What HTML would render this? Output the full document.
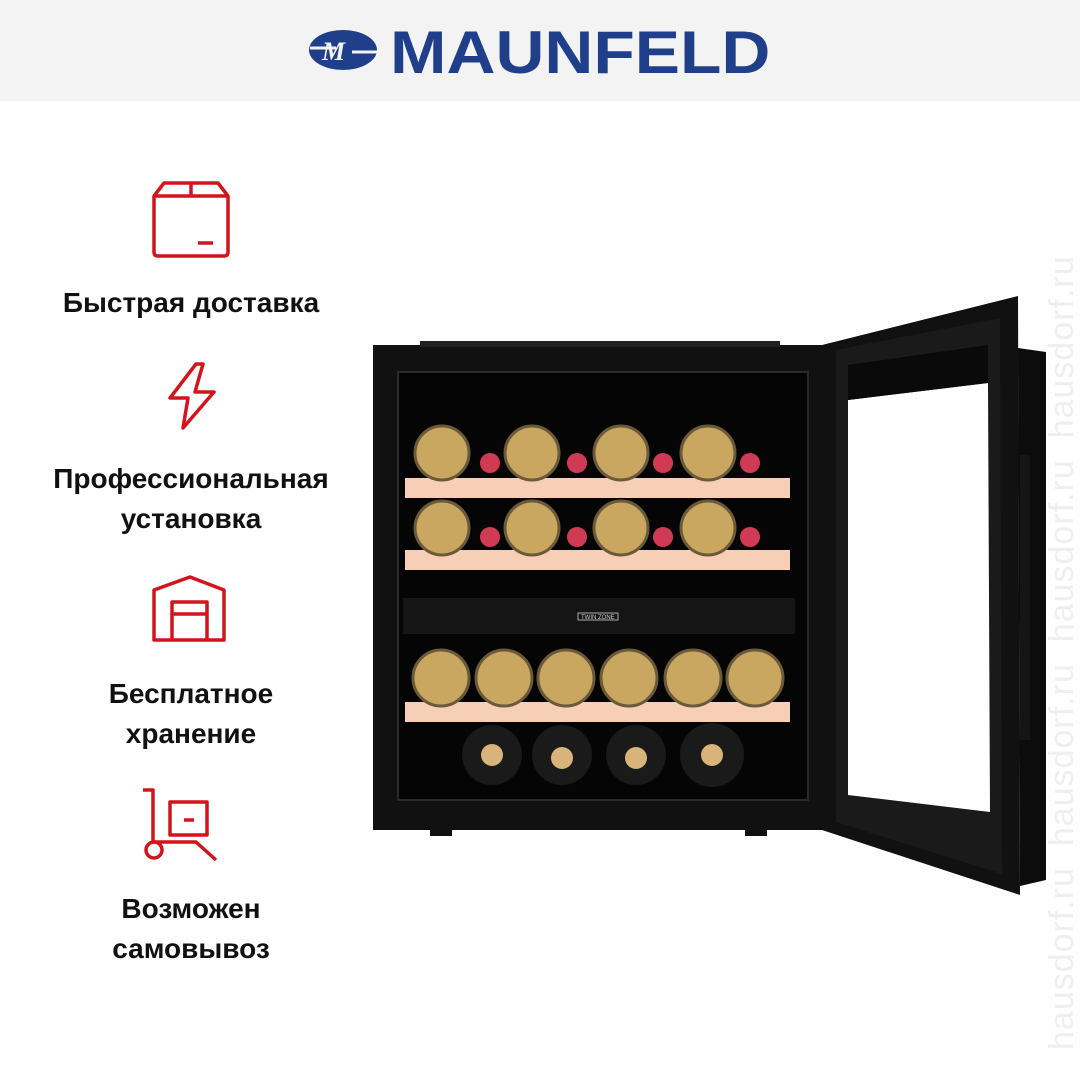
<!DOCTYPE html>
<html><head><meta charset="utf-8"><style>
body{margin:0;width:1080px;height:1080px;background:#fff;position:relative;overflow:hidden;font-family:"Liberation Sans",sans-serif}
.hdr{position:absolute;left:0;top:0;width:1080px;height:101px;background:#f3f3f3}
.logo{position:absolute;left:390px;top:18px;font-weight:bold;font-size:60px;color:#1f3f8a;letter-spacing:0px;transform:scaleX(1.13);transform-origin:left top;line-height:70px}
.t{position:absolute;width:382px;left:0;text-align:center;font-size:28px;font-weight:bold;color:#111;line-height:40px}
.wm{position:absolute;left:1043px;top:1050px;transform:rotate(-90deg);transform-origin:left top;font-size:34px;color:#efefef;white-space:nowrap;letter-spacing:1px;width:1100px}
</style></head><body>
<div class="hdr"></div>
<svg style="position:absolute;left:308px;top:28px" width="72" height="46"><ellipse cx="35" cy="22" rx="34" ry="20" fill="#1f3f8a"/><path d="M2 20 H28 M44 24 H70" stroke="#f3f3f3" stroke-width="3"/><text x="14" y="32" font-family="Liberation Serif" font-style="italic" font-weight="bold" font-size="26" fill="#f3f3f3">M</text></svg>
<div class="logo">MAUNFELD</div>
<div class="wm">hausdorf.ru &nbsp;hausdorf.ru &nbsp;hausdorf.ru &nbsp;hausdorf.ru</div>

<svg style="position:absolute;left:0;top:0" width="382" height="880" fill="none" stroke="#d3141d" stroke-width="3.5" stroke-linejoin="round">
<path d="M154 196 L164 183 H218 L228 196 V252 Q228 256 224 256 H158 Q154 256 154 252 Z M154 196 H228 M191 183 V196 M198 243 H213"/>
<path d="M196 364 L170 398 H188 L183 428 L214 392 H195 L203 364 Z"/>
<path d="M154 590 L190 577 L224 590 V640 H154 Z M172 640 V602 H207 V640 M172 614 H207" />
<path d="M143 790 H153 V842 M153 842 H196 L216 860 M170 802 H207 V835 H170 Z M184 820 H194"/>
<circle cx="154" cy="850" r="8"/>
</svg>
<div class="t" style="top:283px">Быстрая доставка</div>
<div class="t" style="top:459px">Профессиональная<br>установка</div>
<div class="t" style="top:674px">Бесплатное<br>хранение</div>
<div class="t" style="top:889px">Возможен<br>самовывоз</div>

<svg style="position:absolute;left:0;top:0" width="1080" height="1080">
<rect x="373" y="345" width="452" height="485" fill="#111"/>
<rect x="420" y="341" width="360" height="6" fill="#222"/>
<rect x="398" y="372" width="410" height="428" fill="#050505" stroke="#2a2a2a" stroke-width="2"/>
<rect x="430" y="826" width="22" height="10" fill="#111"/><rect x="745" y="826" width="22" height="10" fill="#111"/>
<polygon points="822,345 1018,296 1020,895 822,830" fill="#111"/>
<polygon points="1018,348 1046,352 1046,880 1020,886" fill="#0c0c0c"/>
<polygon points="836,350 1000,318 1002,874 836,822" fill="#1a1a1a"/>
<polygon points="848,400 988,383 990,812 848,795" fill="#fff"/>
<polygon points="848,365 988,345 988,383 848,400" fill="#0a0a0a"/>
<rect x="1020" y="455" width="10" height="285" fill="#151515"/>
<g fill="#f6cfb6"><rect x="405" y="478" width="385" height="20"/><rect x="405" y="550" width="385" height="20"/><rect x="405" y="702" width="385" height="20"/></g>
<rect x="403" y="598" width="392" height="36" fill="#151515"/>
<rect x="578" y="613" width="40" height="7" fill="none" stroke="#aaa" stroke-width="1"/>
<text x="581" y="619" font-size="6" fill="#ccc" font-family="Liberation Sans">TWIN ZONE</text>
<g fill="#c9a760" stroke="#6b5a3a" stroke-width="3">
<circle cx="442" cy="453" r="27"/><circle cx="532" cy="453" r="27"/><circle cx="621" cy="453" r="27"/><circle cx="708" cy="453" r="27"/>
<circle cx="442" cy="528" r="27"/><circle cx="532" cy="528" r="27"/><circle cx="621" cy="528" r="27"/><circle cx="708" cy="528" r="27"/>
<circle cx="441" cy="678" r="28"/><circle cx="504" cy="678" r="28"/><circle cx="566" cy="678" r="28"/><circle cx="629" cy="678" r="28"/><circle cx="693" cy="678" r="28"/><circle cx="755" cy="678" r="28"/>
</g>
<g fill="#d03a55"><circle cx="490" cy="463" r="10"/><circle cx="577" cy="463" r="10"/><circle cx="663" cy="463" r="10"/><circle cx="750" cy="463" r="10"/><circle cx="490" cy="537" r="10"/><circle cx="577" cy="537" r="10"/><circle cx="663" cy="537" r="10"/><circle cx="750" cy="537" r="10"/></g>
<g fill="#1a1a1a"><circle cx="492" cy="755" r="30"/><circle cx="562" cy="755" r="30"/><circle cx="636" cy="755" r="30"/><circle cx="712" cy="755" r="32"/></g>
<g fill="#d8b47a"><circle cx="492" cy="755" r="11"/><circle cx="562" cy="758" r="11"/><circle cx="636" cy="758" r="11"/><circle cx="712" cy="755" r="11"/></g>
</svg>
</body></html>
